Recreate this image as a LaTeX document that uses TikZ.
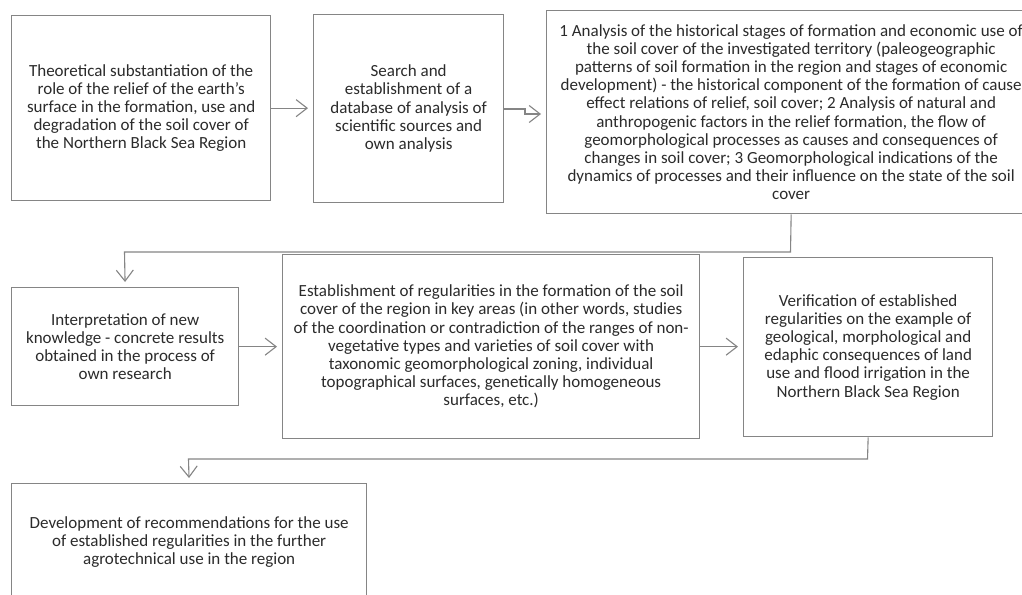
\documentclass[tikz,border=0pt]{standalone}
\usepackage{fontspec}
\setmainfont{Carlito}
\usetikzlibrary{arrows.meta}
\definecolor{linegray}{HTML}{858585}
\definecolor{txt}{HTML}{2b2b2b}
\tikzset{
  box/.style={draw=linegray, line width=1.3pt, anchor=north west, align=center,
    inner sep=0pt, text=txt, font=\fontsize{17}{18.2}\selectfont},
  arr/.style={draw=linegray, line width=1.1pt, -{Straight Barb[length=11pt,width=17pt,line width=1.1pt]}, shorten >=5pt},
}
\begin{document}
\begin{tikzpicture}[x=1pt,y=-1pt]
\clip (0,0) rectangle (1022,594);
\fill[white] (0,0) rectangle (1022,594);
\node[box, minimum width=259pt, minimum height=185pt] (b1) at (11,15)
 {Theoretical substantiation of the\\role of the relief of the earth{\char"27}s\\surface in the formation, use and\\degradation of the soil cover of\\the Northern Black Sea Region};
\node[box, minimum width=190pt, minimum height=188pt] (b2) at (313,14)
 {Search and\\establishment of a\\database of analysis of\\scientific sources and\\own analysis};
\node[box, minimum width=489pt, minimum height=203pt] (b3) at (546,10)
 {1 Analysis of the historical stages of formation and economic use of\\the soil cover of the investigated territory (paleogeographic\\patterns of soil formation in the region and stages of economic\\development) - the historical component of the formation of cause\\effect relations of relief, soil cover; 2 Analysis of natural and\\anthropogenic factors in the relief formation, the flow of\\geomorphological processes as causes and consequences of\\changes in soil cover; 3 Geomorphological indications of the\\dynamics of processes and their influence on the state of the soil\\cover};
\node[box, minimum width=227pt, minimum height=118pt] (b4) at (11,287)
 {Interpretation of new\\knowledge - concrete results\\obtained in the process of\\own research};
\node[box, minimum width=417pt, minimum height=184pt] (b5) at (282,254)
 {Establishment of regularities in the formation of the soil\\cover of the region in key areas (in other words, studies\\of the coordination or contradiction of the ranges of non-\\vegetative types and varieties of soil cover with\\taxonomic geomorphological zoning, individual\\topographical surfaces, genetically homogeneous\\surfaces, etc.)};
\node[box, minimum width=249pt, minimum height=179pt] (b6) at (743,257)
 {Verification of established\\regularities on the example of\\geological, morphological and\\edaphic consequences of land\\use and flood irrigation in the\\Northern Black Sea Region};
\node[box, minimum width=355pt, minimum height=117pt] (b7) at (11,483)
 {Development of recommendations for the use\\of established regularities in the further\\agrotechnical use in the region};
% connectors
\coordinate (j1) at (525,109);
\coordinate (j2) at (525,114);
\coordinate (c1) at (790.5,252);
\coordinate (c2) at (124.5,252);
\coordinate (d1) at (867.5,459);
\coordinate (d2) at (188.5,459);
\draw[arr] (b1.east) -- (b1.east -| b2.west);
\draw[arr] (b2.east |- j1) -- (j1) -- (j2) -- (j2 -| b3.west);
\draw[arr] (b3.south) -- (c1) -- (c2) -- (b4.north);
\draw[arr] (b4.east) -- (b4.east -| b5.west);
\draw[arr] (b5.east) -- (b5.east -| b6.west);
\draw[arr] (b6.south) -- (d1) -- (d2) -- (b7.north);
\end{tikzpicture}
\end{document}
